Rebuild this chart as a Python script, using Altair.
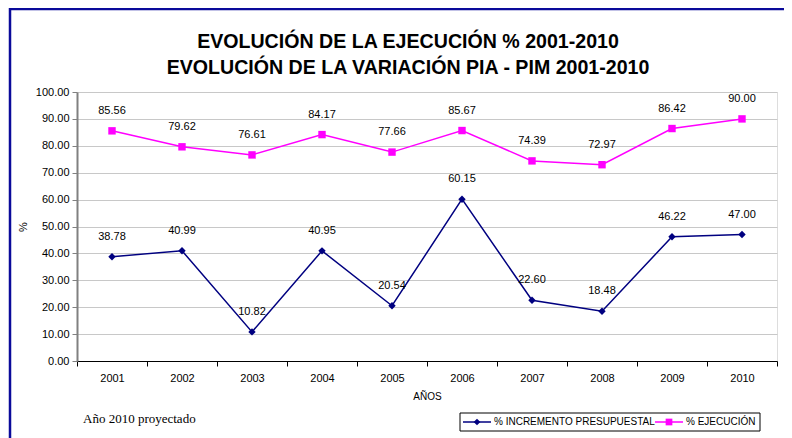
import altair as alt
import pandas as pd

years = ["2001", "2002", "2003", "2004", "2005", "2006", "2007", "2008", "2009", "2010"]
incremento = [38.78, 40.99, 10.82, 40.95, 20.54, 60.15, 22.60, 18.48, 46.22, 47.00]
ejecucion = [85.56, 79.62, 76.61, 84.17, 77.66, 85.67, 74.39, 72.97, 86.42, 90.00]
series_names = ["% INCREMENTO PRESUPUESTAL", "% EJECUCIÓN"]
series_colors = ["#000080", "#FF00FF"]
title_lines = ["EVOLUCIÓN DE LA EJECUCIÓN % 2001-2010", "EVOLUCIÓN DE LA VARIACIÓN PIA - PIM 2001-2010"]
y_ticks = [0, 10, 20, 30, 40, 50, 60, 70, 80, 90, 100]
note = "Año 2010 proyectado"

rows = []
for i, y in enumerate(years):
    rows.append({"year": y, "serie": series_names[0], "value": incremento[i], "label": f"{incremento[i]:.2f}"})
    rows.append({"year": y, "serie": series_names[1], "value": ejecucion[i], "label": f"{ejecucion[i]:.2f}"})
df = pd.DataFrame(rows)

FONT = "Liberation Sans"
W, H = 700, 269

x_enc = alt.X("year:O", sort=years,
              scale=alt.Scale(paddingInner=0, paddingOuter=0),
              axis=alt.Axis(title="AÑOS", titleFont=FONT, titleFontSize=10, titleFontWeight="normal",
                            titleColor="#000", titlePadding=8,
                            labelAngle=0, labelFont=FONT, labelFontSize=11, labelColor="#000",
                            labelPadding=6, domainColor="#000", domainWidth=1,
                            tickColor="#000", tickSize=5, tickBand="extent", grid=False))
y_enc = alt.Y("value:Q", scale=alt.Scale(domain=[0, 100], nice=False),
              axis=alt.Axis(title="%", titleFont=FONT, titleFontSize=11, titleFontWeight="normal",
                            titleColor="#000", titlePadding=7,
                            values=y_ticks, format=".2f", labelFont=FONT, labelFontSize=11,
                            labelColor="#000", labelPadding=3, labelOverlap=False,
                            domainColor="#808080", domainWidth=2,
                            tickColor="#808080", tickSize=5, grid=True, gridColor="#C8C8C8"))
color_enc = alt.Color("serie:N", scale=alt.Scale(domain=series_names, range=series_colors), legend=None)

base = alt.Chart(df)
lines = base.mark_line(strokeWidth=1.5).encode(x=x_enc, y=y_enc, color=color_enc, detail="serie:N")
points = base.mark_point(filled=True, opacity=1, size=55).encode(
    x=x_enc, y=y_enc, color=color_enc,
    shape=alt.Shape("serie:N", scale=alt.Scale(domain=series_names, range=["diamond", "square"]), legend=None))
labels = base.mark_text(dy=-20, font=FONT, fontSize=11, color="#000").encode(
    x=x_enc, y=y_enc, text="label:N")

# outer border (dark blue)
border_top = alt.Chart().mark_rule(color="#0A0A9A", strokeWidth=2.5).encode(
    x=alt.value(-68), x2=alt.value(W + 20), y=alt.value(-83))
border_left = alt.Chart().mark_rule(color="#0A0A9A", strokeWidth=2.5).encode(
    x=alt.value(-67), y=alt.value(-84), y2=alt.value(H + 100))

t1 = alt.Chart().mark_text(font=FONT, fontSize=19.6, fontWeight="bold", color="#000").encode(
    x=alt.value(331), y=alt.value(-50), text=alt.value(title_lines[0]))
t2 = alt.Chart().mark_text(font=FONT, fontSize=19.6, fontWeight="bold", color="#000").encode(
    x=alt.value(331), y=alt.value(-24), text=alt.value(title_lines[1]))

note_t = alt.Chart().mark_text(font="Liberation Serif", fontSize=13, color="#000", align="left").encode(
    x=alt.value(6), y=alt.value(H + 58), text=alt.value(note))

# manual legend
LX0, LY0 = 383, H + 52
leg_box = alt.Chart().mark_rect(fill="white", stroke="#000", strokeWidth=1).encode(
    x=alt.value(LX0), x2=alt.value(LX0 + 300), y=alt.value(LY0), y2=alt.value(LY0 + 18))
leg_layers = [leg_box]
item_x = [LX0 + 3, LX0 + 195]
for i in range(2):
    cx = item_x[i]
    leg_layers.append(alt.Chart().mark_rule(color=series_colors[i], strokeWidth=1.5).encode(
        x=alt.value(cx), x2=alt.value(cx + 28), y=alt.value(LY0 + 9)))
    leg_layers.append(alt.Chart().mark_point(filled=True, opacity=1, size=45, color=series_colors[i],
                                             shape=["diamond", "square"][i]).encode(
        x=alt.value(cx + 14), y=alt.value(LY0 + 9)))
    leg_layers.append(alt.Chart().mark_text(font=FONT, fontSize=10, color="#000", align="left").encode(
        x=alt.value(cx + 31), y=alt.value(LY0 + 9), text=alt.value(series_names[i])))

chart = alt.layer(lines, points, labels, border_top, border_left, t1, t2, note_t, *leg_layers).properties(
    width=W, height=H,
    autosize=alt.AutoSizeParams(type="none"),
    padding={"left": 69, "top": 84, "right": 7, "bottom": 80},
).configure_view(stroke=None).configure(background="white")

chart.save("out.html", embed_options={"renderer": "svg", "actions": False})
